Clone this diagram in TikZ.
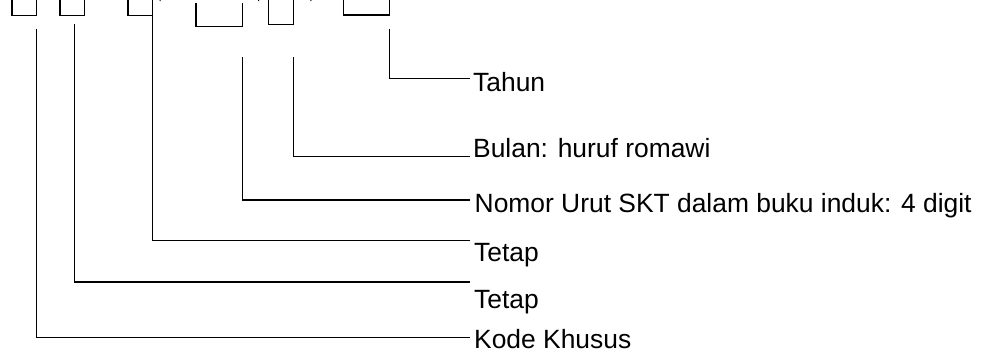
\documentclass[tikz,border=0pt]{standalone}
\usepackage{fontspec}
\setmainfont{Liberation Sans}
\begin{document}
\begin{tikzpicture}[x=1pt,y=-1pt,
  ln/.style={line width=1.35pt,line cap=rect,line join=miter},
  lbl/.style={anchor=base west,inner sep=0pt,font=\fontsize{26.4}{30}\selectfont}]
\useasboundingbox (0,0) rectangle (987,354);
\begin{scope}
\clip (0,0) rectangle (987,354);
% open boxes (upper part cut off)
\draw[ln] (12,-5) -- (12,15.3) -- (36.7,15.3) -- (36.7,-5);
\draw[ln] (60,-5) -- (60,15.5) -- (84.7,15.5) -- (84.7,-5);
\draw[ln] (128,-5) -- (128,15.5) -- (152.3,15.5) -- (152.3,-5);
\draw[ln] (196,3.3) -- (196,26.7) -- (242.3,26.7) -- (242.3,3.3);
\draw[ln] (268.7,-5) -- (268.7,24.3) -- (293.3,24.3) -- (293.3,-5);
\draw[ln] (343.3,-5) -- (343.3,15) -- (389.3,15) -- (389.3,-5);
% tiny marks at the top edge
\draw[line width=1pt] (160.3,-2) -- (160,1);
\draw[line width=1pt] (258.9,-2) -- (258.6,1);
\draw[line width=1pt] (311.2,-2) -- (310.9,1);
\end{scope}
% connector start and end points
\coordinate (s1) at (36.7,30);   \coordinate (e1) at (469,337.7);
\coordinate (s2) at (74.3,25);   \coordinate (e2) at (469,282);
\coordinate (s3) at (152.3,15.5);\coordinate (e3) at (469,240.7);
\coordinate (s4) at (242.3,57.3);\coordinate (e4) at (469,200);
\coordinate (s5) at (293.3,57.3);\coordinate (e5) at (469,156.7);
\coordinate (s6) at (389.3,30);  \coordinate (e6) at (469,78.3);
\draw[ln] (s1) |- (e1);
\draw[ln] (s2) |- (e2);
\draw[ln] (s3) |- (e3);
\draw[ln] (s4) |- (e4);
\draw[ln] (s5) |- (e5);
\draw[ln] (s6) |- (e6);
% labels
\node[lbl] (tahun) at (473,91.7) {Tahun};
\node[lbl] (bulan) at (473,157.7) {Bulan: huruf romawi};
\node[lbl] (nomor) at (474.5,212.7) {Nomor Urut SKT dalam buku induk: 4 digit};
\node[lbl] (tetapa) at (474,261) {Tetap};
\node[lbl] (tetapb) at (474,308.3) {Tetap};
\node[lbl] (kode) at (474,348.3) {Kode Khusus};
\end{tikzpicture}
\end{document}
